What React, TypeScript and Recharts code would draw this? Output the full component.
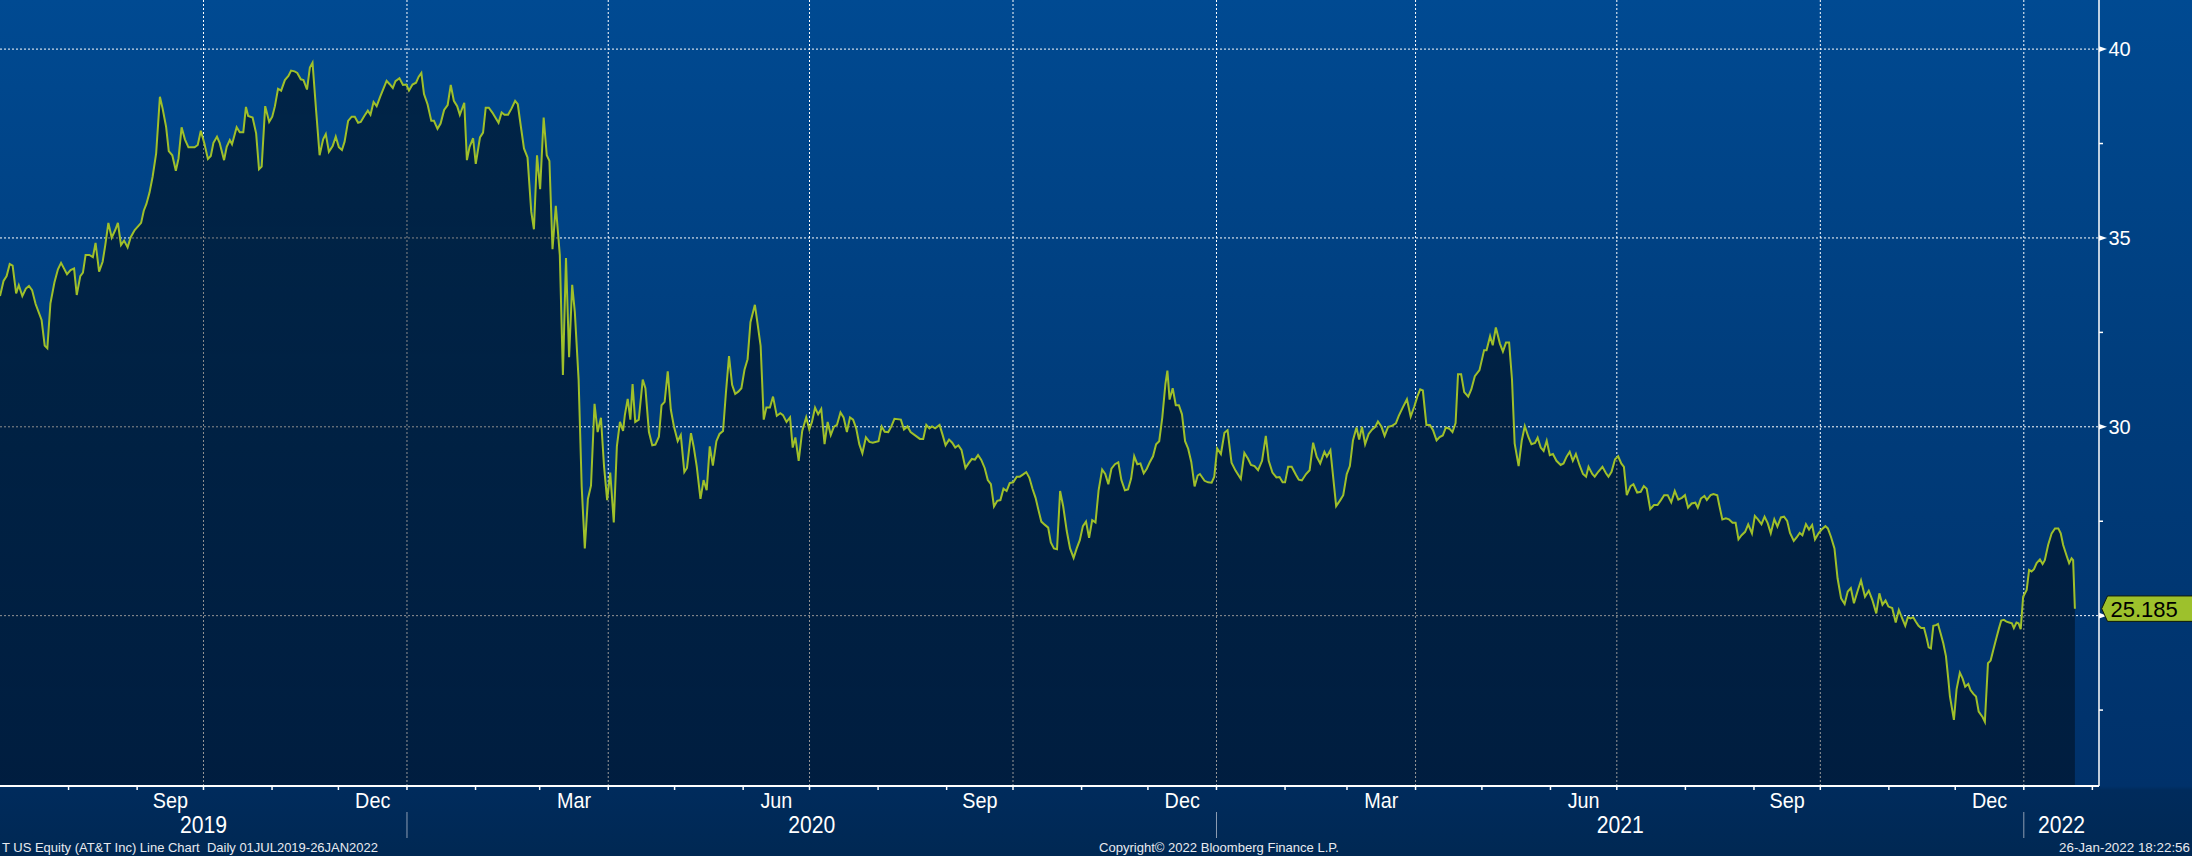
import React from 'react';
import { ComposedChart, Area, XAxis, YAxis, CartesianGrid } from 'recharts';

// x values: calendar days since 2019-07-01
const START_ISO = '2019-07-01';
const dayOffsets = [
  0.0, 1.6, 3.0, 4.4, 5.7, 7.3, 8.5, 10.1, 11.7, 13.1, 14.5, 16.1, 18.8, 20.2, 21.4, 22.8, 24.6, 26.2, 27.6, 30.3,
  31.9, 33.5, 34.7, 36.3, 37.5, 38.7, 40.4, 42.0, 43.2, 44.8, 46.4, 47.6, 49.0, 50.5, 52.1, 53.3, 54.7, 56.1, 57.7, 59.1,
  60.9, 62.6, 63.8, 65.0, 66.2, 67.6, 69.0, 70.6, 72.3, 73.5, 75.1, 76.3, 77.9, 79.5, 80.7, 82.1, 83.6, 85.2, 88.0, 89.4,
  90.8, 92.4, 94.0, 95.3, 96.5, 98.1, 99.3, 101.3, 102.5, 103.9, 104.9, 107.0, 108.4, 110.0, 111.2, 112.2, 114.2, 115.8, 117.1, 118.3,
  119.9, 121.7, 123.1, 124.3, 125.7, 127.1, 128.8, 130.4, 131.6, 133.2, 134.4, 136.0, 137.2, 138.8, 140.1, 141.3, 142.9, 144.5, 146.1, 147.3,
  148.7, 150.4, 151.8, 153.2, 154.6, 155.8, 157.4, 159.0, 160.4, 161.9, 163.1, 164.7, 166.3, 167.5, 168.9, 170.3, 171.9, 174.8, 176.2, 177.6,
  178.8, 180.6, 182.2, 183.7, 184.9, 186.5, 188.1, 189.3, 190.5, 191.7, 193.3, 195.0, 196.2, 197.8, 199.2, 200.8, 202.4, 203.8, 205.2, 206.7,
  207.9, 209.9, 211.1, 212.3, 213.9, 215.1, 217.0, 218.4, 219.6, 221.0, 222.6, 225.4, 226.8, 228.1, 229.7, 231.3, 232.9, 234.1, 235.3, 236.9,
  238.5, 240.2, 241.4, 242.8, 244.2, 245.8, 247.2, 248.4, 249.8, 251.3, 253.1,
  254.5, 255.9, 257.3, 258.7, 259.9, 261.6, 263.0, 264.4, 265.8, 267.2, 268.8, 270.2, 271.7, 273.1, 274.5, 275.9, 277.5, 278.9, 280.3, 281.7,
  282.5, 283.8, 285.0, 286.0, 287.2, 288.8, 290.6, 291.8, 293.4, 294.9, 296.3, 297.9, 299.1, 300.5, 301.9, 303.3, 304.7, 306.4, 307.8, 309.4,
  310.6, 312.4, 313.6, 315.0, 316.7, 318.1, 319.5, 320.9, 322.3, 323.9, 325.3, 326.9, 328.2, 329.6, 331.0, 332.4, 333.8, 335.2, 336.6, 338.0,
  339.3, 341.3, 342.5, 343.9, 345.3, 346.5, 348.1, 349.5, 351.2, 352.8, 354.0, 355.6, 357.2, 358.4, 359.6, 361.1, 362.7, 364.5, 365.9, 367.1,
  368.5, 369.9, 371.3, 372.8, 374.2, 375.6, 377.0, 378.4, 380.0, 381.4, 382.9, 384.3, 385.7, 387.1, 388.5, 389.9, 391.5, 393.1, 394.6, 397.2,
  398.6, 400.0, 401.6, 403.0, 404.4, 407.3, 408.7, 410.3, 411.7, 414.5, 415.9, 417.4, 418.8, 420.2, 421.4, 422.8, 424.8, 426.2, 427.5, 429.1,
  430.5, 431.9, 433.3, 434.7, 436.5, 437.9, 439.4, 440.8, 442.2, 443.6, 445.2, 446.6, 448.0, 449.4, 450.9, 452.3, 453.7, 455.1, 456.5, 458.1,
  459.7, 461.1, 462.6, 464.0, 465.4, 466.8, 468.2, 469.4, 470.8, 472.3, 473.9, 475.1, 476.5, 477.9, 479.3, 480.7, 482.3, 483.8, 485.4, 486.8,
  488.2, 489.6, 491.0, 492.4, 493.8, 495.3, 496.7, 498.3, 499.7, 501.1, 502.5, 504.1, 505.6, 507.0, 508.6, 510.0, 511.4, 512.8, 514.2, 515.6,
  517.1, 518.5, 519.9, 521.3, 522.7, 524.1, 525.5, 526.9, 527.8, 528.8, 530.2, 531.6, 533.0, 534.4, 535.8, 537.2, 538.6, 540.1, 541.5,
  542.5, 544.6, 546.2, 547.8, 549.0, 550.3, 552.0, 553.6, 555.0, 556.8, 558.6, 561.0, 562.6, 564.2, 565.6, 567.2, 568.8, 570.6, 572.3, 573.6,
  575.3, 577.1, 578.5, 579.9, 581.0, 582.4, 584.0, 585.9, 587.2, 588.6, 590.5, 592.1, 593.7, 595.3, 596.9, 598.8, 599.9, 601.5, 604.1, 605.7,
  607.3, 608.9, 610.3, 611.7, 613.3, 614.5, 615.8, 617.2, 618.8, 620.4, 621.8, 623.0, 624.6, 626.0, 627.6, 629.2, 631.1, 632.4, 634.3, 636.1,
  637.8, 639.4, 640.8, 642.1, 643.3, 644.9, 646.5, 647.9, 649.5, 650.9, 652.3, 653.7, 655.3, 656.7, 658.1, 659.2, 660.6, 662.0, 663.8, 665.2,
  666.8, 668.9, 671.0, 672.1, 673.7, 674.9, 676.3, 678.1, 679.5, 680.9, 682.3, 683.6, 684.8, 686.6, 688.0, 689.4, 691.0, 692.4, 694.0, 695.2,
  696.6, 697.9, 699.3, 700.7, 702.1, 703.7, 705.6, 706.9, 708.3, 709.7, 711.1, 712.5, 714.1, 715.7, 717.1, 718.2, 719.9, 721.0, 722.6, 724.5,
  726.1, 727.2, 728.6, 730.2, 731.6, 733.0, 734.2, 735.5, 737.2, 738.5, 740.2, 741.8, 743.2, 744.5, 746.1, 747.8, 749.4, 751.0, 752.4, 754.0,
  755.6, 757.2, 758.8, 760.4, 761.8, 763.2, 764.8, 766.5, 767.6, 769.0, 770.6, 771.7, 773.4, 774.7, 776.4, 777.3, 778.7, 780.3, 781.7, 783.3,
  784.7, 786.0, 787.4, 789.0, 790.4, 792.1, 793.4, 794.8, 796.4, 797.8, 799.2, 800.6, 802.2, 803.6, 805.2, 806.6, 808.0, 809.3, 811.0, 812.3,
  813.7, 814.9, 816.5, 817.9, 819.3, 820.6, 822.2, 823.6, 825.3, 826.4, 827.8, 829.4, 830.8, 832.4, 834.0, 835.4, 836.8, 838.2, 839.8, 841.4,
  843.2, 844.9, 846.5, 848.3, 849.7, 851.1, 852.5, 853.8, 855.5, 857.1, 858.5,
  860.2, 861.4, 862.6, 863.8, 865.0, 866.2, 867.4, 868.6, 869.9, 871.1, 872.0, 873.0, 874.1, 875.3, 876.2, 877.4, 878.6, 879.8, 880.9, 881.6,
  883.4, 884.6, 886.1, 887.3, 888.5, 889.9, 890.9, 892.2, 893.4, 894.6, 896.4, 897.4, 898.8, 900.0, 901.2, 902.4, 903.8, 904.8, 906.0, 907.2,
  908.4, 909.6, 910.5, 911.7, 912.6, 913.6,
  914.7, 916.3, 917.4, 918.5, 919.6, 920.8, 922.3, 923.5, 924.5, 926.0, 927.6, 929.1, 930.6, 931.7, 932.8, 934.4, 935.5, 936.6, 937.3, 938.1,
];

const closePrices = [
  33.46, 33.86, 33.99, 34.31, 34.27, 33.53, 33.75, 33.46, 33.66, 33.73, 33.62, 33.25, 32.83, 32.15, 32.08, 33.27, 33.82, 34.17, 34.34, 34.04,
  34.15, 34.19, 33.49, 33.99, 34.08, 34.55, 34.55, 34.49, 34.87, 34.11, 34.37, 34.81, 35.40, 35.01, 35.21, 35.40, 34.81, 34.93, 34.75, 35.02,
  35.21, 35.32, 35.40, 35.72, 35.90, 36.20, 36.62, 37.24, 38.74, 38.43, 37.94, 37.30, 37.19, 36.78, 37.10, 37.93, 37.61, 37.40, 37.40, 37.46,
  37.84, 37.50, 37.09, 37.17, 37.52, 37.68, 37.52, 37.06, 37.41, 37.59, 37.48, 37.93, 37.80, 37.80, 38.47, 38.23, 38.19, 37.77, 36.82, 36.89,
  38.49, 38.07, 38.21, 38.49, 38.95, 38.90, 39.18, 39.29, 39.43, 39.41, 39.37, 39.20, 39.18, 38.93, 39.51, 39.64, 38.39, 37.19, 37.61, 37.75,
  37.28, 37.43, 37.68, 37.40, 37.33, 37.55, 38.10, 38.21, 38.21, 38.05, 38.07, 38.23, 38.37, 38.26, 38.60, 38.49, 38.74, 39.16, 39.07, 38.97,
  39.15, 39.23, 39.05, 39.06, 38.90, 39.06, 39.11, 39.27, 39.37, 38.81, 38.54, 38.10, 38.10, 37.89, 38.03, 38.39, 38.52, 39.05, 38.63, 38.49,
  38.26, 38.58, 37.06, 37.41, 37.64, 36.96, 37.66, 37.79, 38.45, 38.45, 38.32, 38.05, 38.32, 38.26, 38.26, 38.43, 38.63, 38.54, 38.03, 37.37,
  37.13, 35.69, 35.23, 37.19, 36.29, 38.19, 37.19, 37.04, 34.70, 35.85, 34.55,
  31.37, 34.47, 31.84, 33.76, 33.03, 31.25, 28.41, 26.78, 28.09, 28.44, 30.61, 29.86, 30.24, 28.95, 28.06, 28.79, 27.47, 29.48, 30.13, 29.89,
  30.31, 30.74, 30.19, 31.13, 30.13, 30.19, 31.25, 31.02, 29.86, 29.51, 29.53, 29.74, 30.57, 30.66, 31.47, 30.45, 30.01, 29.62, 29.78, 28.80,
  28.91, 29.83, 29.48, 28.95, 28.09, 28.59, 28.32, 29.48, 28.97, 29.62, 29.81, 29.89, 30.90, 31.87, 31.11, 30.87, 30.93, 31.02, 31.51, 31.79,
  32.77, 33.23, 32.73, 32.14, 30.19, 30.51, 30.51, 30.80, 30.29, 30.36, 30.31, 30.13, 30.25, 29.45, 29.72, 29.10, 29.89, 30.25, 29.93, 30.13,
  30.51, 30.33, 30.47, 29.54, 30.13, 29.78, 30.00, 30.05, 30.38, 30.25, 29.86, 30.25, 30.19, 29.96, 29.54, 29.30, 29.72, 29.60, 29.58, 29.62,
  30.01, 29.87, 29.86, 30.01, 30.21, 30.19, 29.93, 30.01, 29.86, 29.74, 29.68, 29.68, 30.05, 29.96, 30.01, 29.96, 30.05, 29.78, 29.51, 29.66,
  29.58, 29.45, 29.51, 29.39, 28.91, 29.03, 29.15, 29.13, 29.25, 29.13, 28.91, 28.59, 28.48, 27.89, 28.04, 28.06, 28.36, 28.30, 28.51, 28.53,
  28.68, 28.68, 28.74, 28.80, 28.65, 28.36, 28.12, 27.82, 27.49, 27.41, 27.33, 26.94, 26.78, 26.76, 28.30, 27.89, 27.24, 26.78, 26.53, 26.78,
  27.00, 27.37, 27.49, 27.06, 27.53, 27.47, 28.32, 28.87, 28.75, 28.48, 28.89, 29.01, 29.06, 28.59, 28.32, 28.34, 28.63, 29.22, 29.01, 29.03,
  28.77, 28.89, 29.07, 29.22, 29.54, 29.62, 30.25, 31.13, 31.49, 30.72, 31.02, 30.57, 30.57, 30.33, 29.62, 29.42, 29.07, 28.42, 28.71,
  28.75, 28.57, 28.53, 28.52, 28.68, 29.43, 29.28, 29.84, 29.91, 29.05, 28.84, 28.62, 29.31, 29.16, 28.99, 28.96, 28.85, 29.10, 29.76, 29.10,
  28.79, 28.66, 28.67, 28.53, 28.53, 28.94, 28.94, 28.73, 28.60, 28.58, 28.75, 28.85, 29.58, 29.21, 29.03, 29.34, 29.21, 29.38, 27.90, 28.04,
  28.19, 28.75, 28.96, 29.64, 29.98, 29.66, 30.00, 29.54, 29.81, 29.93, 30.00, 30.14, 30.00, 29.76, 30.00, 30.02, 30.09, 30.29, 30.52, 30.73,
  30.27, 30.53, 30.80, 30.99, 30.96, 30.05, 30.05, 29.91, 29.64, 29.73, 29.77, 29.98, 29.95, 29.86, 30.10, 31.39, 31.39, 30.92, 30.80, 30.99,
  31.34, 31.50, 32.03, 32.03, 32.40, 32.16, 32.63, 32.21, 31.99, 32.23, 32.23, 31.26, 29.56, 28.96, 29.63, 30.02, 29.73, 29.54, 29.57, 29.71,
  29.45, 29.36, 29.63, 29.25, 29.28, 29.10, 28.99, 29.03, 29.21, 29.34, 29.10, 29.28, 28.99, 28.75, 28.68, 28.94, 28.75, 28.68, 28.81, 28.94,
  28.77, 28.68, 28.81, 29.14, 29.22, 29.03, 28.94, 28.19, 28.43, 28.48, 28.26, 28.28, 28.43, 28.36, 27.82, 27.93, 27.93, 28.06, 28.19, 28.19,
  28.00, 28.30, 28.07, 28.12, 28.19, 27.86, 27.97, 27.99, 27.86, 28.10, 28.17, 28.06, 28.19, 28.22, 28.19, 27.93, 27.55, 27.58, 27.55, 27.46,
  27.46, 27.02, 27.13, 27.22, 27.42, 27.18, 27.64, 27.55, 27.42, 27.62, 27.45, 27.18, 27.55, 27.36, 27.60, 27.62, 27.51, 27.19, 26.98, 27.07,
  27.19, 27.13, 27.42, 27.28, 27.40, 27.02, 27.18, 27.28, 27.37, 27.31, 27.09, 26.78, 25.99, 25.46, 25.31, 25.64, 25.73, 25.33, 25.64, 25.93,
  25.50, 25.66, 25.42, 25.06, 25.59, 25.29, 25.40, 25.24, 25.20, 24.82, 25.15,
  24.90, 24.73, 24.96, 24.93, 24.96, 24.84, 24.73, 24.67, 24.67, 24.40, 24.16, 24.13, 24.73, 24.75, 24.78, 24.53, 24.27, 23.93, 23.30, 22.86,
  22.24, 23.05, 23.49, 23.34, 23.12, 23.19, 23.03, 22.93, 22.86, 22.46, 22.31, 22.19, 23.74, 23.81, 24.09, 24.36, 24.67, 24.87, 24.89, 24.84,
  24.82, 24.80, 24.67, 24.82, 24.80, 24.64,
  25.50, 25.68, 26.21, 26.17, 26.23, 26.39, 26.49, 26.37, 26.47, 26.87, 27.18, 27.31, 27.31, 27.18, 26.87, 26.58, 26.39, 26.52, 26.47, 25.185,
];

const LAST_PRICE = 25.185;
const END_ISO = '2022-02-04';

const yMajorTicks = [25, 30, 35, 40];
const yMinorTicks = [22.5, 27.5, 32.5, 37.5];
const Y_DOMAIN: [number, number] = [20.49, 41.3];

const monthStartDates = [
  '2019-08-01', '2019-09-01', '2019-10-01', '2019-11-01', '2019-12-01', '2020-01-01', '2020-02-01', '2020-03-01',
  '2020-04-01', '2020-05-01', '2020-06-01', '2020-07-01', '2020-08-01', '2020-09-01', '2020-10-01', '2020-11-01',
  '2020-12-01', '2021-01-01', '2021-02-01', '2021-03-01', '2021-04-01', '2021-05-01', '2021-06-01', '2021-07-01',
  '2021-08-01', '2021-09-01', '2021-10-01', '2021-11-01', '2021-12-01', '2022-01-01', '2022-02-01',
];
const quarterGridDates = [
  '2019-10-01', '2020-01-01', '2020-04-01', '2020-07-01', '2020-10-01',
  '2021-01-01', '2021-04-01', '2021-07-01', '2021-10-01', '2022-01-01',
];
const monthLabels = ['Sep', 'Dec', 'Mar', 'Jun', 'Sep', 'Dec', 'Mar', 'Jun', 'Sep', 'Dec'];
const monthLabelStarts = [
  '2019-09-01', '2019-12-01', '2020-03-01', '2020-06-01', '2020-09-01',
  '2020-12-01', '2021-03-01', '2021-06-01', '2021-09-01', '2021-12-01',
];
const yearLabels = ['2019', '2020', '2021', '2022'];
const yearStartDates = ['2019-07-01', '2020-01-01', '2021-01-01', '2022-01-01'];

const footerLeft = 'T US Equity (AT&T Inc) Line Chart  Daily 01JUL2019-26JAN2022';
const footerMid = 'Copyright\u00a9 2022 Bloomberg Finance L.P.';
const footerRight = '26-Jan-2022 18:22:56';

const DAY_MS = 86400000;
const startMs = Date.parse(START_ISO + 'T00:00:00Z');
const dayOf = (iso: string) => Math.round((Date.parse(iso + 'T00:00:00Z') - startMs) / DAY_MS);
const nextMonth = (iso: string) => {
  const d = new Date(iso + 'T00:00:00Z');
  return new Date(Date.UTC(d.getUTCFullYear(), d.getUTCMonth() + 1, 1)).toISOString().slice(0, 10);
};
const X_DOMAIN: [number, number] = [0, dayOf(END_ISO)];

const data = dayOffsets.map((d, i) => ({ day: d, price: closePrices[i] }));

type TickInfo = { tick?: boolean; sep?: boolean; month?: string; year?: string };
const tickInfo = new Map<string, TickInfo>();
const keyOf = (v: number) => v.toFixed(2);
const addInfo = (v: number, info: TickInfo) => {
  const k = keyOf(v);
  tickInfo.set(k, { ...(tickInfo.get(k) || {}), ...info });
};
monthStartDates.forEach((d) => addInfo(dayOf(d), { tick: true }));
yearStartDates.slice(1).forEach((d) => addInfo(dayOf(d), { sep: true }));
monthLabelStarts.forEach((d, i) => addInfo((dayOf(d) + dayOf(nextMonth(d))) / 2, { month: monthLabels[i] }));
yearStartDates.forEach((d, i) => {
  const a = Math.max(dayOf(d), X_DOMAIN[0]);
  const b = i + 1 < yearStartDates.length ? dayOf(yearStartDates[i + 1]) : X_DOMAIN[1];
  addInfo((a + Math.min(b, X_DOMAIN[1])) / 2, { year: yearLabels[i] });
});
const xTickValues = Array.from(tickInfo.keys()).map(Number).sort((a, b) => a - b);

// major labels hidden behind the last-price tag (as on the terminal)
const TAG_HALF_RANGE = 0.6;
const isHiddenByTag = (v: number) => Math.abs(v - LAST_PRICE) < TAG_HALF_RANGE;

const FONT = '"Liberation Sans", Arial, sans-serif';

const XTick = (props: any) => {
  const { x, y, payload } = props;
  const info = tickInfo.get(keyOf(Number(payload.value)));
  if (!info) return null;
  return (
    <g>
      {info.tick && <line x1={x} x2={x} y1={y} y2={y + 4} stroke="#ffffff" strokeWidth={1.5} />}
      {info.sep && <line x1={x} x2={x} y1={y + 26} y2={y + 52} stroke="#8d9db3" strokeWidth={1} />}
      {info.month && (
        <text transform={`translate(${x} ${y + 21.5}) scale(0.9 1)`} textAnchor="middle" fill="#ffffff" fontSize={22} fontFamily={FONT}>
          {info.month}
        </text>
      )}
      {info.year && (
        <text transform={`translate(${x} ${y + 47}) scale(0.9 1)`} textAnchor="middle" fill="#ffffff" fontSize={23.5} fontFamily={FONT}>
          {info.year}
        </text>
      )}
    </g>
  );
};

const YTick = (props: any) => {
  const { x, y, payload } = props;
  const v = Number(payload.value);
  if (v === LAST_PRICE) {
    return (
      <g>
        <polygon
          points={`${x + 2.7},${y} ${x + 8.5},${y - 12.7} ${x + 110},${y - 12.7} ${x + 110},${y + 12.7} ${x + 8.5},${y + 12.7}`}
          fill="#9dc12c"
          stroke="#101a08"
          strokeWidth={1}
        />
        <text x={x + 11.5} y={y + 8} fill="#000000" fontSize={22} fontFamily={FONT}>
          {v.toFixed(3)}
        </text>
      </g>
    );
  }
  if (yMajorTicks.includes(v)) {
    return (
      <g>
        <polygon points={`${x},${y - 2.8} ${x + 8},${y} ${x},${y + 2.8}`} fill="#ffffff" />
        {!isHiddenByTag(v) && (
          <text x={x + 9.5} y={y + 7.2} fill="#ffffff" fontSize={20} fontFamily={FONT}>
            {v}
          </text>
        )}
      </g>
    );
  }
  return <line x1={x} x2={x + 4} y1={y} y2={y} stroke="#ffffff" strokeWidth={1.5} />;
};

const hGrid = (args: any) => {
  const { yAxis, offset } = args;
  return yMajorTicks.map((v) =>
    yAxis && typeof yAxis.scale === 'function'
      ? yAxis.scale(v)
      : offset.top + ((Y_DOMAIN[1] - v) / (Y_DOMAIN[1] - Y_DOMAIN[0])) * offset.height,
  );
};
const vGrid = (args: any) => {
  const { xAxis, offset } = args;
  return quarterGridDates.map((d) => {
    const v = dayOf(d);
    return xAxis && typeof xAxis.scale === 'function'
      ? xAxis.scale(v)
      : offset.left + ((v - X_DOMAIN[0]) / (X_DOMAIN[1] - X_DOMAIN[0])) * offset.width;
  });
};

export default function App() {
  return (
    <div
      style={{
        position: 'absolute',
        left: 0,
        top: 0,
        width: 2192,
        height: 856,
        overflow: 'hidden',
        background: 'linear-gradient(to bottom, #004a92 0px, #003d7c 380px, #00316a 786px, #002b5c 790px, #002853 856px)',
        fontFamily: FONT,
      }}
    >
      <ComposedChart width={2192} height={856} data={data} margin={{ top: 0, right: 0, bottom: 0, left: 0 }}>
        <defs>
          <linearGradient id="areaFill" x1="0" y1="0" x2="0" y2="1">
            <stop offset="0%" stopColor="#000000" stopOpacity={0.5} />
            <stop offset="100%" stopColor="#000000" stopOpacity={0.4} />
          </linearGradient>
        </defs>
        <CartesianGrid
          stroke="#ffffff"
          strokeDasharray="2 2"
          strokeWidth={1}
          horizontalCoordinatesGenerator={hGrid}
          verticalCoordinatesGenerator={vGrid}
        />
        <XAxis
          dataKey="day"
          type="number"
          domain={X_DOMAIN}
          allowDataOverflow
          height={70}
          ticks={xTickValues}
          interval={0}
          tickSize={0}
          tickMargin={0}
          tickLine={false}
          axisLine={{ stroke: '#ffffff', strokeWidth: 2 }}
          tick={(p: any) => <XTick {...p} />}
        />
        <YAxis
          orientation="right"
          type="number"
          width={93}
          domain={Y_DOMAIN}
          allowDataOverflow
          ticks={[...yMinorTicks, ...yMajorTicks, LAST_PRICE]}
          interval={0}
          tickSize={0}
          tickMargin={0}
          tickLine={false}
          axisLine={{ stroke: '#ffffff', strokeWidth: 1.5 }}
          tick={(p: any) => <YTick {...p} />}
        />
        <Area
          type="linear"
          dataKey="price"
          stroke="#9fc02a"
          strokeWidth={2}
          fill="url(#areaFill)"
          fillOpacity={1}
          dot={false}
          activeDot={false}
          isAnimationActive={false}
        />
      </ComposedChart>
      <svg width={2192} height={856} style={{ position: 'absolute', left: 0, top: 0, pointerEvents: 'none' }}>
        <text x={2} y={852} fill="#e8ebf0" fontSize={13} fontFamily={FONT} textLength={376} lengthAdjust="spacingAndGlyphs" style={{ whiteSpace: 'pre' }}>
          {footerLeft}
        </text>
        <text x={1099} y={852} fill="#e8ebf0" fontSize={13} fontFamily={FONT} textLength={240} lengthAdjust="spacingAndGlyphs">
          {footerMid}
        </text>
        <text x={2059} y={852} fill="#e8ebf0" fontSize={13.5} fontFamily={FONT} textLength={131} lengthAdjust="spacingAndGlyphs">
          {footerRight}
        </text>
      </svg>
    </div>
  );
}
